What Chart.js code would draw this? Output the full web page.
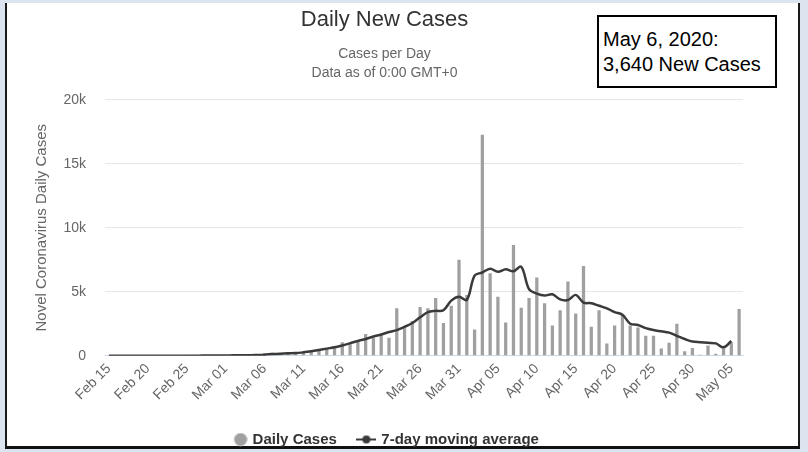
<!DOCTYPE html>
<html>
<head>
<meta charset="utf-8">
<script src="https://cdn.jsdelivr.net/npm/chart.js@4.4.1/dist/chart.umd.min.js"></script>
<style>
  html, body { margin: 0; padding: 0; }
  body { width: 808px; height: 452px; background: #dce5ef; position: relative; overflow: hidden; font-family: "Liberation Sans", Arial, sans-serif; }
  #panel { position: absolute; left: 5px; top: 3px; width: 791px; height: 443px; background: #fff;
           border-left: 2px solid #1a1a1a; border-right: 2px solid #1a1a1a; border-bottom: 3px solid #111; }
  #wrap { position: absolute; left: 0; top: 0; width: 768px; height: 452px; }
  #note { position: absolute; left: 597px; top: 15px; width: 172px; height: 69px; border: 2px solid #000;
          background: #fff; font-size: 20px; line-height: 25px; color: #000; padding: 0 0 0 4px; box-sizing: content-box; }
  #note div:first-child { margin-top: 10px; }
</style>
</head>
<body>
<div id="panel"></div>
<div id="wrap"><canvas id="c" width="768" height="452"></canvas></div>
<div id="note"><div>May 6, 2020:</div><div>3,640 New Cases</div></div>
<script>
const categories = [
  "Feb 15","Feb 16","Feb 17","Feb 18","Feb 19","Feb 20","Feb 21","Feb 22","Feb 23","Feb 24",
  "Feb 25","Feb 26","Feb 27","Feb 28","Feb 29","Mar 01","Mar 02","Mar 03","Mar 04","Mar 05",
  "Mar 06","Mar 07","Mar 08","Mar 09","Mar 10","Mar 11","Mar 12","Mar 13","Mar 14","Mar 15",
  "Mar 16","Mar 17","Mar 18","Mar 19","Mar 20","Mar 21","Mar 22","Mar 23","Mar 24","Mar 25",
  "Mar 26","Mar 27","Mar 28","Mar 29","Mar 30","Mar 31","Apr 01","Apr 02","Apr 03","Apr 04",
  "Apr 05","Apr 06","Apr 07","Apr 08","Apr 09","Apr 10","Apr 11","Apr 12","Apr 13","Apr 14",
  "Apr 15","Apr 16","Apr 17","Apr 18","Apr 19","Apr 20","Apr 21","Apr 22","Apr 23","Apr 24",
  "Apr 25","Apr 26","Apr 27","Apr 28","Apr 29","Apr 30","May 01","May 02","May 03","May 04",
  "May 05","May 06"
];

const dailyCases = [
  0,0,0,0,0,0,0,0,0,0,
  2,4,20,19,43,30,60,30,75,130,
  190,230,200,290,180,260,340,470,550,680,
  1050,900,1150,1700,1400,1670,1400,3700,2150,2700,
  3800,3700,4500,2550,3900,7500,4750,2050,17270,6450,
  4600,2600,8650,3750,4500,6100,4100,2350,3550,5800,
  3300,7000,2250,3550,950,2350,3200,2350,2200,1550,
  1550,550,1000,2500,350,600,80,800,150,580,
  1050,3640
];

const movingAverage = [
  0,0,0,0,0,0,0,0,0,0,
  0,1,4,6,13,17,25,29,35,55,
  80,120,150,180,200,260,340,440,550,650,
  800,970,1150,1300,1500,1650,1850,2000,2250,2550,
  3000,3400,3500,3550,4300,4600,4350,6250,6500,6800,
  6550,6750,6600,6950,5200,4850,4700,4800,4400,4350,
  4750,4150,4100,3900,3700,3400,3200,2500,2400,2150,
  2000,1900,1800,1550,1300,1100,1050,1000,960,650,
  1150,null
];

const yTicks = [0, 5000, 10000, 15000, 20000];
const yTickLabels = ["0", "5k", "10k", "15k", "20k"];

const FONT = '"Liberation Sans", Arial, sans-serif';

function circleStyle() {
  const cv = document.createElement('canvas');
  cv.width = 20; cv.height = 14;
  const g = cv.getContext('2d');
  g.fillStyle = '#a0a0a0';
  g.beginPath(); g.arc(13, 7, 6.5, 0, Math.PI * 2); g.fill();
  return cv;
}
function lineStyle() {
  const cv = document.createElement('canvas');
  cv.width = 20; cv.height = 14;
  const g = cv.getContext('2d');
  g.strokeStyle = '#3a3a3a'; g.lineWidth = 2;
  g.beginPath(); g.moveTo(0, 7); g.lineTo(20, 7); g.stroke();
  g.fillStyle = '#3a3a3a';
  g.beginPath(); g.arc(10, 7, 4, 0, Math.PI * 2); g.fill();
  return cv;
}
const legendStyles = [circleStyle(), lineStyle()];

new Chart(document.getElementById('c'), {
  data: {
    labels: categories,
    datasets: [
      {
        type: 'line',
        label: '7-day moving average',
        data: movingAverage,
        borderColor: '#3a3a3a',
        borderWidth: 2.5,
        pointRadius: 0,
        tension: 0.35,
        fill: false,
        order: 0
      },
      {
        type: 'bar',
        label: 'Daily Cases',
        data: dailyCases,
        backgroundColor: '#a0a0a0',
        categoryPercentage: 1,
        barPercentage: 0.42,
        order: 1
      }
    ]
  },
  options: {
    responsive: false,
    animation: false,
    devicePixelRatio: 1,
    layout: { padding: { left: 26, right: 25, top: 6, bottom: -5 } },
    plugins: {
      tooltip: { enabled: false },
      title: {
        display: true,
        text: 'Daily New Cases',
        color: '#333333',
        font: { family: FONT, size: 22, weight: 'normal' },
        padding: { top: 1, bottom: 12 }
      },
      subtitle: {
        display: true,
        text: ['Cases per Day', 'Data as of 0:00 GMT+0'],
        color: '#666666',
        font: { family: FONT, size: 14, weight: 'normal', lineHeight: 1.3 },
        padding: { top: 0, bottom: 18 }
      },
      legend: {
        position: 'bottom',
        labels: {
          color: '#333333',
          font: { family: FONT, size: 15, weight: 'bold' },
          usePointStyle: true,
          boxWidth: 20,
          boxHeight: 14,
          padding: 22,
          generateLabels: (chart) => {
            const ds = chart.data.datasets;
            return [
              { text: ds[1].label, pointStyle: legendStyles[0], datasetIndex: 1, fontColor: '#333333', lineWidth: 0, strokeStyle: 'transparent', fillStyle: '#a0a0a0' },
              { text: ds[0].label, pointStyle: legendStyles[1], datasetIndex: 0, fontColor: '#333333', lineWidth: 0, strokeStyle: 'transparent', fillStyle: '#3a3a3a' }
            ];
          }
        }
      }
    },
    scales: {
      x: {
        grid: { display: false, drawTicks: false },
        border: { display: true, color: '#ccd6eb', width: 1 },
        afterFit: (s) => { s.paddingLeft = 0; s.paddingRight = 0; },
        ticks: {
          autoSkip: false,
          minRotation: 45,
          maxRotation: 45,
          padding: 5,
          color: '#666666',
          font: { family: FONT, size: 14 },
          callback: function (v, i) { return i % 5 === 0 ? categories[i] : ''; }
        }
      },
      y: {
        min: 0,
        max: 20000,
        afterBuildTicks: (axis) => { axis.ticks = yTicks.map(v => ({ value: v })); },
        afterFit: (axis) => { axis.width = 79; },
        grid: { color: '#e6e6e6', drawTicks: false },
        border: { display: false },
        ticks: {
          padding: 19,
          color: '#666666',
          font: { family: FONT, size: 14 },
          callback: (v) => yTickLabels[yTicks.indexOf(v)]
        },
        title: {
          display: true,
          text: 'Novel Coronavirus Daily Cases',
          color: '#666666',
          font: { family: FONT, size: 15, lineHeight: 1.2 },
          padding: { top: 7, bottom: 0 }
        }
      }
    }
  }
});
</script>
</body>
</html>
